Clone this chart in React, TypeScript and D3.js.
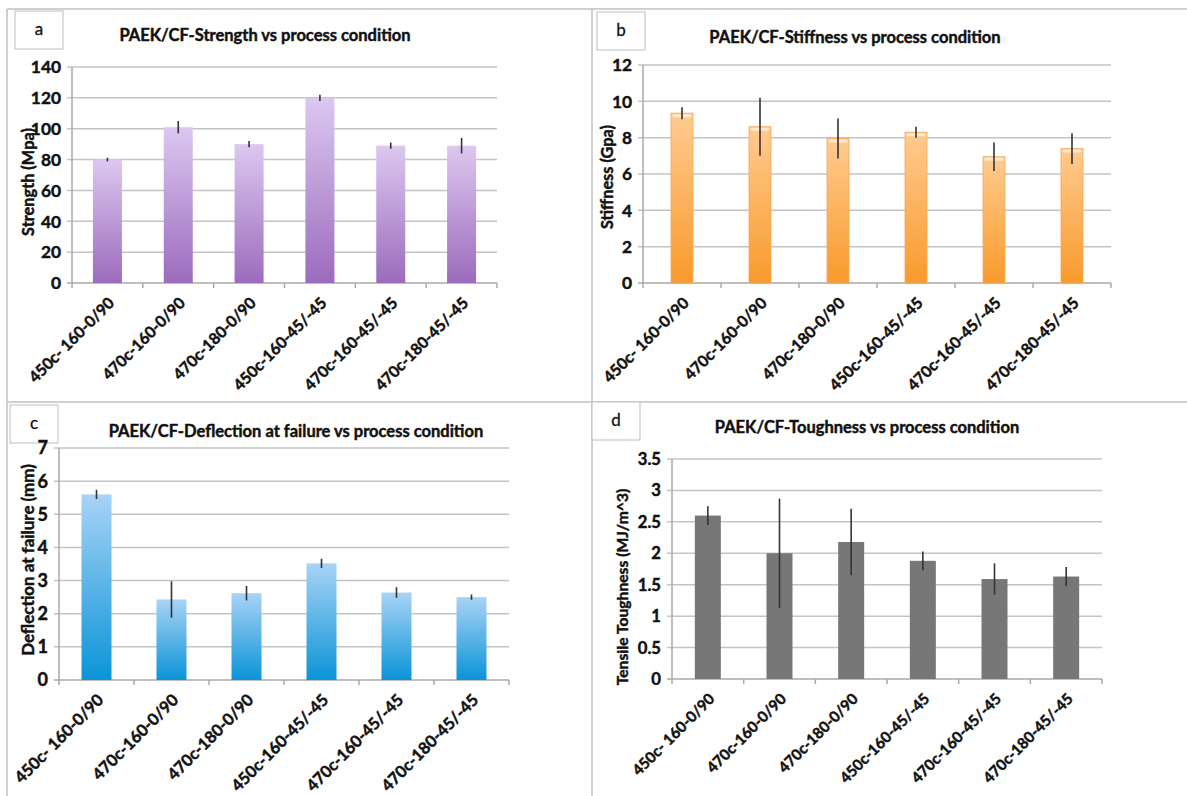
import React from 'react';
import * as d3 from 'd3';

const conditions = ['450c- 160-0/90', '470c-160-0/90', '470c-180-0/90', '450c-160-45/-45', '470c-160-45/-45', '470c-180-45/-45'];

const strength = [80, 101, 90, 120, 89, 89];
const strengthErr = [1.2, 4, 2, 2, 2, 5];
const strengthTicks = [0, 20, 40, 60, 80, 100, 120, 140];

const stiffness = [9.35, 8.6, 7.95, 8.3, 6.95, 7.4];
const stiffnessErr = [0.33, 1.6, 1.1, 0.3, 0.78, 0.85];
const stiffnessTicks = [0, 2, 4, 6, 8, 10, 12];

const deflection = [5.6, 2.43, 2.62, 3.52, 2.64, 2.5];
const deflectionErr = [0.14, 0.55, 0.22, 0.14, 0.16, 0.08];
const deflectionTicks = [0, 1, 2, 3, 4, 5, 6, 7];

const toughness = [2.6, 2.0, 2.18, 1.88, 1.59, 1.63];
const toughnessErr = [0.15, 0.87, 0.53, 0.15, 0.25, 0.15];
const toughnessTicks = [0, 0.5, 1, 1.5, 2, 2.5, 3, 3.5];

const FONT = 'Lato, "Open Sans", sans-serif';
const GRID = '#c4c4c4';
const FRAME = '#c0c0c0';
const INK = '#111';

type PanelProps = {
  id: string;
  letter: string;
  box: [number, number];
  title: string;
  titleX: number;
  titleY: number;
  yLabel: string;
  yLabelX: number;
  yLabelY: number;
  values: number[];
  errors: number[];
  ticks: number[];
  left: number;
  right: number;
  top: number;
  bottom: number;
  barW: number;
  fs: number;
  colors: [string, string] | null;
  solid?: string;
};

// bold text, slightly thickened to match the heavy Calibri of the original
const heavy = { fontWeight: 'bold' as const, fontFamily: FONT, fill: INK, stroke: INK, strokeWidth: 0.45 };

function Panel(p: PanelProps) {
  const x = d3.scaleBand<string>().domain(conditions).range([p.left, p.right]);
  const y = d3.scaleLinear().domain([0, p.ticks[p.ticks.length - 1]]).range([p.bottom, p.top]);
  const bw = x.bandwidth();
  const fill = p.colors ? `url(#grad-${p.id})` : p.solid;

  return (
    <g>
      {p.colors && (
        <defs>
          <linearGradient id={`grad-${p.id}`} x1="0" y1="0" x2="0" y2="1">
            <stop offset="0%" stopColor={p.colors[0]} />
            <stop offset="100%" stopColor={p.colors[1]} />
          </linearGradient>
        </defs>
      )}
      {/* letter box */}
      <rect x={p.box[0]} y={p.box[1]} width={48} height={38} fill="#fff" stroke="#c8c8c8" strokeWidth={1.2} />
      <text x={p.box[0] + 24} y={p.box[1] + 24} textAnchor="middle" fontSize={17} fontFamily={FONT} fill={INK}
        stroke={INK} strokeWidth={0.3}>
        {p.letter}
      </text>
      <text x={p.titleX} y={p.titleY} textAnchor="middle" fontSize={16.5} {...heavy}>
        {p.title}
      </text>

      {/* gridlines + y ticks */}
      {p.ticks.map(t => (
        <g key={t}>
          <line x1={p.left - 5} x2={p.right} y1={y(t)} y2={y(t)} stroke={t === 0 ? '#a8a8a8' : GRID} strokeWidth={1.5} />
          <text x={p.left - 11} y={y(t)} dy="0.36em" textAnchor="end" fontSize={17 * p.fs} {...heavy}>
            {t}
          </text>
        </g>
      ))}
      <line x1={p.left} x2={p.left} y1={p.top} y2={p.bottom} stroke="#a8a8a8" strokeWidth={1.5} />
      {/* x ticks */}
      {conditions.map(c => (
        <line key={c} x1={x(c)!} x2={x(c)!} y1={p.bottom} y2={p.bottom + 5} stroke="#a8a8a8" strokeWidth={1.5} />
      ))}
      <line x1={p.right} x2={p.right} y1={p.bottom} y2={p.bottom + 5} stroke="#a8a8a8" strokeWidth={1.5} />

      {/* bars */}
      {p.values.map((v, i) => {
        const cx = x(conditions[i])! + bw / 2;
        return (
          <g key={i}>
            <rect x={cx - p.barW / 2} y={y(v)} width={p.barW} height={p.bottom - y(v)} fill={fill}
              stroke={p.id === 'b' ? '#f2a85a' : 'none'} strokeWidth={0.8} />
            {p.id === 'b' && (
              <rect x={cx - p.barW / 2 + 1.5} y={y(v) + 1} width={p.barW - 3} height={3} rx={1.5} fill="#fff0d8" opacity={0.85} />
            )}
            <line x1={cx} x2={cx} y1={y(v + p.errors[i])} y2={y(v - p.errors[i])} stroke="#333" strokeWidth={1.6} />
          </g>
        );
      })}

      {/* x labels */}
      {conditions.map(c => {
        const cx = x(c)! + bw / 2 + 4;
        const cy = p.bottom + 17;
        return (
          <text key={c} transform={`translate(${cx},${cy}) rotate(-45)`} textAnchor="end" dy="0.35em"
            fontSize={15.5 * p.fs} {...heavy}>
            {c}
          </text>
        );
      })}

      <text transform={`translate(${p.yLabelX},${p.yLabelY}) rotate(-90)`} textAnchor="middle" dy="0.35em"
        fontSize={16 * p.fs} {...heavy}>
        {p.yLabel}
      </text>
    </g>
  );
}

export default function App() {
  return (
    <svg width={1187} height={796} style={{ position: 'absolute', left: 0, top: 0, background: '#fff' }}>
      <rect width={1187} height={796} fill="#fff" />
      {/* panel frames */}
      <line x1={7} x2={1187} y1={9} y2={9} stroke={FRAME} strokeWidth={1.5} />
      <line x1={7} x2={7} y1={9} y2={796} stroke={FRAME} strokeWidth={1.5} />
      <line x1={592} x2={592} y1={9} y2={796} stroke={FRAME} strokeWidth={1.5} />
      <line x1={7} x2={1187} y1={402} y2={402} stroke={FRAME} strokeWidth={1.5} />

      <Panel id="a" letter="a" box={[15, 11]} title="PAEK/CF-Strength vs process condition" titleX={265} titleY={41}
        yLabel="Strength (Mpa)" yLabelX={28} yLabelY={182} values={strength} errors={strengthErr} ticks={strengthTicks}
        left={72} right={497} top={67} bottom={283} barW={29} fs={1.02} colors={['#dcc8f0', '#9c6bbd']} />
      <Panel id="b" letter="b" box={[597, 12]} title="PAEK/CF-Stiffness vs process condition" titleX={855} titleY={43}
        yLabel="Stiffness (Gpa)" yLabelX={607} yLabelY={177} values={stiffness} errors={stiffnessErr} ticks={stiffnessTicks}
        left={643} right={1111} top={65} bottom={283} barW={22} fs={1.02} colors={['#ffcb90', '#f99a2c']} />
      <Panel id="c" letter="c" box={[10, 405]} title="PAEK/CF-Deflection at failure vs process condition" titleX={296} titleY={437}
        yLabel="Deflection at failure (mm)" yLabelX={28} yLabelY={560} values={deflection} errors={deflectionErr} ticks={deflectionTicks}
        left={59} right={509} top={448} bottom={680} barW={30} fs={1.06} colors={['#a8d3f6', '#0b94d7']} />
      <Panel id="d" letter="d" box={[592, 402]} title="PAEK/CF-Toughness vs process condition" titleX={867} titleY={433}
        yLabel="Tensile Toughness (MJ/m^3)" yLabelX={622} yLabelY={587} values={toughness} errors={toughnessErr} ticks={toughnessTicks}
        left={672} right={1102} top={459} bottom={679} barW={26} fs={0.98} colors={null} solid="#777777" />
    </svg>
  );
}
